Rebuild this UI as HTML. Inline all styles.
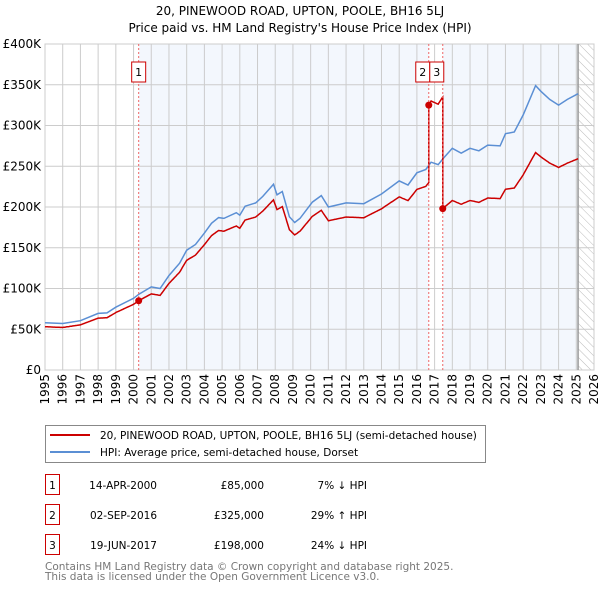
<!DOCTYPE html>
<html><head><meta charset="utf-8"><style>
body{margin:0;background:#fff;font-family:"DejaVu Sans","Liberation Sans",sans-serif;}
#wrap{position:relative;width:600px;height:590px;overflow:hidden}
text{font-family:"DejaVu Sans","Liberation Sans",sans-serif}
</style></head><body><div id="wrap">
<svg id="svg" width="600" height="590" xmlns="http://www.w3.org/2000/svg"></svg>
</div>
<script>
const hpiYears=[1995,1996,1997,1998,1998.5,1999,2000,2000.3,2001,2001.5,2002,2002.6,2003,2003.5,2004,2004.4,2004.8,2005.1,2005.8,2006,2006.3,2006.9,2007.3,2007.9,2008.1,2008.4,2008.8,2009.1,2009.4,2010.1,2010.6,2011,2012,2013,2014,2015,2015.5,2016,2016.5,2016.8,2017.2,2017.5,2018,2018.5,2019,2019.5,2020,2020.7,2021,2021.5,2022,2022.7,2023,2023.5,2024,2024.5,2025.1];
const hpiValues=[58,57,60.5,69.5,70,77,88,93,102,100,116,131,147,154,168,180,187,186,193,190,201,205,213,228,215,219,188,181,186,206,214,200,205,204,216,232,227,242,246,255,252,260,272,266,272,269,276,275,290,292,313,349,342,332,325,332,339];
const saleLabels=["1","2","3"];
const saleYears=[2000.29,2016.67,2017.46];
const salePrices=[85,325,198];
const yTicks=[0,50,100,150,200,250,300,350,400];
const yTickLabels=["£0","£50K","£100K","£150K","£200K","£250K","£300K","£350K","£400K"];
const xTicks=[1995,1996,1997,1998,1999,2000,2001,2002,2003,2004,2005,2006,2007,2008,2009,2010,2011,2012,2013,2014,2015,2016,2017,2018,2019,2020,2021,2022,2023,2024,2025,2026];
const tableDates=["14-APR-2000","02-SEP-2016","19-JUN-2017"];
const tablePrices=["£85,000","£325,000","£198,000"];
const tableDiffs=["7% ↓ HPI","29% ↑ HPI","24% ↓ HPI"];

const L=45,R=594,T=44,B=370;
const x=y=>L+(y-1995)/(2026-1995)*(R-L);
const yv=v=>B-v/400*(B-T);
const NS="http://www.w3.org/2000/svg";
const svg=document.getElementById('svg');
function mk(tag,attrs,name,parent){const e=document.createElementNS(NS,tag);for(const k in attrs)e.setAttribute(k,attrs[k]);


(parent||svg).appendChild(e);return e;}
function txt(s,attrs,name){const e=mk('text',attrs,name);e.textContent=s;return e;}
function hpiAt(t){for(let i=0;i<hpiYears.length-1;i++){if(t<=hpiYears[i+1]){const f=(t-hpiYears[i])/(hpiYears[i+1]-hpiYears[i]);return hpiValues[i]+f*(hpiValues[i+1]-hpiValues[i]);}}return hpiValues[hpiValues.length-1];}

txt("20, PINEWOOD ROAD, UPTON, POOLE, BH16 5LJ",{x:300,y:15,'text-anchor':'middle','font-size':12},'chart-title');
txt("Price paid vs. HM Land Registry's House Price Index (HPI)",{x:300,y:32,'text-anchor':'middle','font-size':12},'chart-subtitle');

const defs=mk('defs',{},'defs');
const pat=mk('pattern',{id:'hatch',width:6,height:6,patternUnits:'userSpaceOnUse',patternTransform:'rotate(-45)'},'hatch-pattern',defs);
mk('line',{x1:0,y1:0,x2:0,y2:6,stroke:'#bbb','stroke-width':1},'hatch-line',pat);

const endYear=2025.1;
mk('rect',{x:x(saleYears[0]),y:T,width:x(saleYears[1])-x(saleYears[0]),height:B-T,fill:'#eef3fc',opacity:0.7},'shade-1');
mk('rect',{x:x(saleYears[2]),y:T,width:x(endYear)-x(saleYears[2]),height:B-T,fill:'#eef3fc',opacity:0.7},'shade-3');
mk('rect',{x:x(endYear),y:T,width:R-x(endYear),height:B-T,fill:'url(#hatch)'},'future-hatch');

yTicks.forEach((v,i)=>{mk('line',{x1:L,x2:R,y1:yv(v),y2:yv(v),stroke:'#ccc'},'y-gridline');
txt(yTickLabels[i],{x:L-4,y:yv(v)+4,'text-anchor':'end','font-size':12},'y-tick-label');});
xTicks.forEach(t=>{mk('line',{x1:x(t),x2:x(t),y1:T,y2:B,stroke:'#ccc'},'x-gridline');
txt(String(t),{transform:`translate(${x(t)+4},${B+4}) rotate(-90)`,'text-anchor':'end','font-size':12},'x-tick-label');});
mk('rect',{x:L,y:T,width:R-L,height:B-T,fill:'none',stroke:'#ccc'},'plot-border');
mk('line',{x1:x(endYear),x2:x(endYear),y1:T,y2:B,stroke:'#999','stroke-width':1.5},'data-end-line');

function ratioAt(t){let idx=0;for(let i=0;i<saleYears.length;i++)if(t>=saleYears[i])idx=i;return salePrices[idx]/hpiAt(saleYears[idx]);}
const grid=[];for(let t=1995;t<=endYear+1e-9;t+=0.05)grid.push(t);
saleYears.forEach(s=>{grid.push(s-0.0001);grid.push(s);});
grid.sort((a,b)=>a-b);
const bluePts=hpiYears.map((t,i)=>x(t).toFixed(1)+','+yv(hpiValues[i]).toFixed(1));
mk('polyline',{points:bluePts.join(' '),fill:'none',stroke:'#5b8fd4','stroke-width':1.5},'hpi-line');
const redPts=grid.map(t=>x(t).toFixed(1)+','+yv(hpiAt(t)*ratioAt(t)).toFixed(1));
mk('polyline',{points:redPts.join(' '),fill:'none',stroke:'#cc0000','stroke-width':1.5},'price-paid-line');

saleYears.forEach((s,i)=>{
mk('line',{x1:x(s),x2:x(s),y1:T,y2:B,stroke:'#e66','stroke-dasharray':'2,2','stroke-width':1},'sale-marker-line-'+saleLabels[i]);
mk('circle',{cx:x(s),cy:yv(salePrices[i]),r:3.5,fill:'#cc0000'},'sale-point-'+saleLabels[i]);
let bx=x(s)-7; if(i==1)bx=x(s)-13; if(i==2)bx=x(saleYears[1])+1;
mk('rect',{x:bx,y:62,width:14,height:20,fill:'#fff',stroke:'#cc0000'},'sale-label-box-'+saleLabels[i]);
txt(saleLabels[i],{x:bx+7,y:76,'text-anchor':'middle','font-size':11},'sale-label-'+saleLabels[i]);
});

mk('rect',{x:45.5,y:425.5,width:440,height:37,fill:'#fff',stroke:'#888'},'legend-box');
mk('line',{x1:50,x2:90,y1:435,y2:435,stroke:'#cc0000','stroke-width':2},'legend-price-swatch');
txt("20, PINEWOOD ROAD, UPTON, POOLE, BH16 5LJ (semi-detached house)",{x:100,y:439,'font-size':10.5},'legend-price-label');
mk('line',{x1:50,x2:90,y1:452,y2:452,stroke:'#5b8fd4','stroke-width':2},'legend-hpi-swatch');
txt("HPI: Average price, semi-detached house, Dorset",{x:100,y:456,'font-size':10.5},'legend-hpi-label');

saleLabels.forEach((l,i)=>{const cy=483+i*30;
mk('rect',{x:45.5,y:cy-8.5,width:14,height:20,fill:'#fff',stroke:'#cc0000'},'table-box-'+l);
txt(l,{x:52.5,y:cy+6,'text-anchor':'middle','font-size':10.5},'table-num-'+l);
txt(tableDates[i],{x:157,y:cy+6,'text-anchor':'end','font-size':10.5},'table-date-'+l);
txt(tablePrices[i],{x:264,y:cy+6,'text-anchor':'end','font-size':10.5},'table-price-'+l);
txt(tableDiffs[i],{x:367,y:cy+6,'text-anchor':'end','font-size':10.5},'table-diff-'+l);
});
txt("Contains HM Land Registry data © Crown copyright and database right 2025.",{x:45,y:570,'font-size':10.5,fill:'#777'},'footer-line-1');
txt("This data is licensed under the Open Government Licence v3.0.",{x:45,y:580,'font-size':10.5,fill:'#777'},'footer-line-2');
</script></body></html>
